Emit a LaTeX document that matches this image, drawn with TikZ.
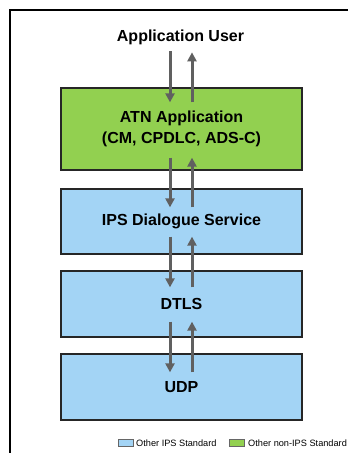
\documentclass[tikz,border=0pt]{standalone}
\usepackage{fontspec}
\setmainfont{Liberation Sans}
\usetikzlibrary{arrows.meta}
\definecolor{ipsblue}{RGB}{163,212,245}
\definecolor{atngreen}{RGB}{146,208,80}
\definecolor{arrgray}{RGB}{96,96,96}
\begin{document}
\begin{tikzpicture}[x=1pt,y=-1pt,
  layer/.style={draw=black!85, line width=1.3pt, minimum width=241pt, inner sep=0pt,
     font=\fontsize{16}{21}\selectfont\bfseries, align=center},
  arr/.style={draw=arrgray, line width=3pt, -{Triangle[length=9pt,width=9pt]}},
  legtext/.style={font=\fontsize{9.2}{10}\selectfont, inner sep=0pt, anchor=west},
  swatch/.style={draw=black!60, line width=0.6pt, minimum width=15pt, minimum height=6.5pt, inner sep=0pt}]
\useasboundingbox (0,0) rectangle (348,453);
\fill[white] (0,0) rectangle (348,453);
\draw[line width=2pt] (348,10) -- (10,10) -- (10,453);

\node[font=\fontsize{16}{18}\selectfont\bfseries] (user) at (180.5,37) {Application User};
\node[layer, fill=atngreen, minimum height=82pt] (atn) at (181.5,129) {ATN Application\\(CM, CPDLC, ADS-C)};
\node[layer, fill=ipsblue, minimum height=65pt] (ips) at (181.5,221.5) {IPS Dialogue Service};
\node[layer, fill=ipsblue, minimum height=66pt] (dtls) at (181.5,304) {DTLS};
\node[layer, fill=ipsblue, minimum height=66pt] (udp) at (181.5,387) {UDP};

% user <-> atn
\draw[arr] ([xshift=-11.5pt,yshift=36pt]atn.north) -- ([xshift=-11.5pt,yshift=-15pt]atn.north);
\draw[arr] ([xshift=10.5pt,yshift=-15pt]atn.north) -- ([xshift=10.5pt,yshift=35pt]atn.north);
% atn <-> ips
\draw[arr] ([xshift=-11.5pt,yshift=13pt]atn.south) -- ([xshift=-11.5pt,yshift=-19pt]ips.north);
\draw[arr] ([xshift=10.5pt,yshift=-19pt]ips.north) -- ([xshift=10.5pt,yshift=13pt]atn.south);
% ips <-> dtls
\draw[arr] ([xshift=-11.5pt,yshift=18pt]ips.south) -- ([xshift=-11.5pt,yshift=-17pt]dtls.north);
\draw[arr] ([xshift=10.5pt,yshift=-17pt]dtls.north) -- ([xshift=10.5pt,yshift=18pt]ips.south);
% dtls <-> udp
\draw[arr] ([xshift=-11.5pt,yshift=16pt]dtls.south) -- ([xshift=-11.5pt,yshift=-19pt]udp.north);
\draw[arr] ([xshift=10.5pt,yshift=-19pt]udp.north) -- ([xshift=10.5pt,yshift=16pt]dtls.south);

% legend
\node[swatch, fill=ipsblue] (sw1) at (125.5,443) {};
\node[legtext] (lt1) at (136,443) {Other IPS Standard};
\node[swatch, fill=atngreen] (sw2) at (237,443) {};
\node[legtext] (lt2) at (248,443) {Other non-IPS Standard};
\end{tikzpicture}
\end{document}
